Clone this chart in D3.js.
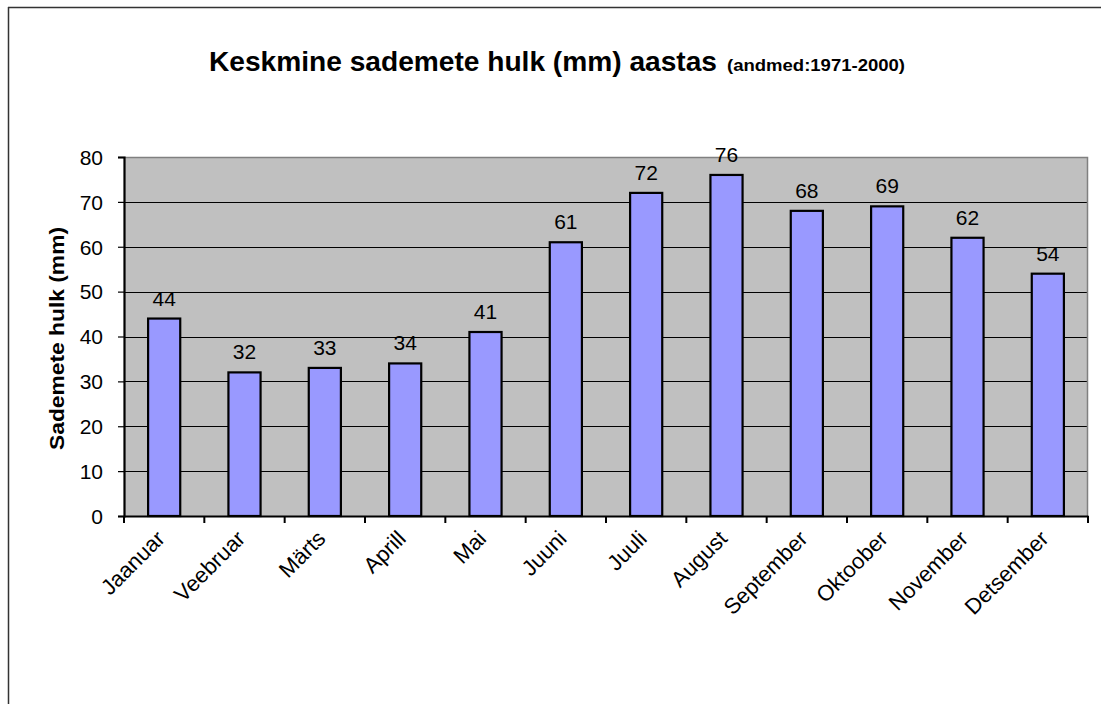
<!DOCTYPE html>
<html><head><meta charset="utf-8">
<script src="https://cdn.jsdelivr.net/npm/d3@7"></script>
<style>body{margin:0;background:#fff;}svg{display:block;font-family:"Liberation Sans",Arial,sans-serif;}</style>
</head><body>
<svg id="c" width="1101" height="704"></svg>
<script>
const months = ["Jaanuar","Veebruar","Märts","Aprill","Mai","Juuni","Juuli","August","September","Oktoober","November","Detsember"];
const values = [44,32,33,34,41,61,72,76,68,69,62,54];
const yTicks = [0,10,20,30,40,50,60,70,80];
const titleMain = "Keskmine sademete hulk (mm) aastas";
const titleSub = "(andmed:1971-2000)";
const yTitle = "Sademete hulk (mm)";

const svg = d3.select("#c");
const L = 124, R = 1088, T = 157, B = 516;

// outer frame (top and left visible)
svg.append("line").attr("x1",8).attr("x2",1101).attr("y1",7.5).attr("y2",7.5).attr("stroke","#333").attr("stroke-width",1.5);
svg.append("line").attr("x1",8.5).attr("x2",8.5).attr("y1",7).attr("y2",704).attr("stroke","#333").attr("stroke-width",1.5);

const x = d3.scaleBand().domain(months).range([L,R]).paddingInner(0.6).paddingOuter(0.3);
const xb = d3.scaleBand().domain(months).range([L,R]);
const y = d3.scaleLinear().domain([0,80]).range([B,T]);

svg.append("rect").attr("x",L).attr("y",T).attr("width",R-L).attr("height",B-T).attr("fill","#c0c0c0");
// gridlines
svg.append("g").selectAll("line").data(yTicks.filter(d=>d>0 && d<80)).join("line")
  .attr("x1",L).attr("x2",R).attr("y1",d=>Math.round(y(d))+0.5).attr("y2",d=>Math.round(y(d))+0.5)
  .attr("stroke","#000").attr("stroke-width",1);
// plot border top/right gray
svg.append("path").attr("d",`M${L},${T+0.5}H${R-0.5}V${B}`).attr("fill","none").attr("stroke","#808080").attr("stroke-width",1.5);

// bars
svg.append("g").selectAll("rect").data(values).join("rect")
  .attr("x",(d,i)=>x(months[i])).attr("y",d=>y(d))
  .attr("width",x.bandwidth()).attr("height",d=>B-y(d))
  .attr("fill","#9999ff").attr("stroke","#000").attr("stroke-width",2.2);

// value labels
svg.append("g").selectAll("text").data(values).join("text")
  .attr("x",(d,i)=>x(months[i])+x.bandwidth()/2).attr("y",d=>y(d)-13)
  .attr("text-anchor","middle").attr("font-size",21).attr("fill","#000").text(d=>d);

// y axis
const yAxis = svg.append("g").attr("transform",`translate(${L},0)`)
  .call(d3.axisLeft(y).tickValues(yTicks).tickSize(6).tickPadding(15));
yAxis.select(".domain").attr("stroke","#000").attr("stroke-width",2.2);
yAxis.selectAll(".tick line").attr("stroke","#000").attr("stroke-width",1.2);
yAxis.selectAll("text").attr("font-size",21).attr("font-family","Liberation Sans, Arial, sans-serif").attr("fill","#000").attr("dy","0.35em");

// x axis
const xAxis = svg.append("g").attr("transform",`translate(0,${B})`)
  .call(d3.axisBottom(xb).tickSize(0).tickFormat(""));
xAxis.select(".domain").attr("stroke","#000").attr("stroke-width",2.2);
svg.append("g").selectAll("line").data(d3.range(months.length+1)).join("line")
  .attr("x1",i=>L+i*xb.step()).attr("x2",i=>L+i*xb.step()).attr("y1",B).attr("y2",B+7)
  .attr("stroke","#000").attr("stroke-width",2);
svg.append("g").selectAll("text").data(months).join("text")
  .attr("transform",d=>`translate(${xb(d)+xb.bandwidth()/2+2},${B+24}) rotate(-45)`)
  .attr("text-anchor","end").attr("font-size",22).attr("fill","#000").text(d=>d);

// titles
svg.append("text").attr("x",209).attr("y",71).attr("fill","#000")
  .attr("font-size",27).attr("font-weight","bold")
  .attr("textLength",508).attr("lengthAdjust","spacingAndGlyphs").text(titleMain);
svg.append("text").attr("x",727).attr("y",71).attr("fill","#000")
  .attr("font-size",16).attr("font-weight","bold")
  .attr("textLength",178).attr("lengthAdjust","spacingAndGlyphs").text(titleSub);

svg.append("text").attr("transform",`translate(64,${(T+B)/2+2}) rotate(-90)`)
  .attr("text-anchor","middle").attr("font-size",21).attr("font-weight","bold").attr("fill","#000")
  .attr("textLength",223).attr("lengthAdjust","spacingAndGlyphs").text(yTitle);
</script>
</body></html>
